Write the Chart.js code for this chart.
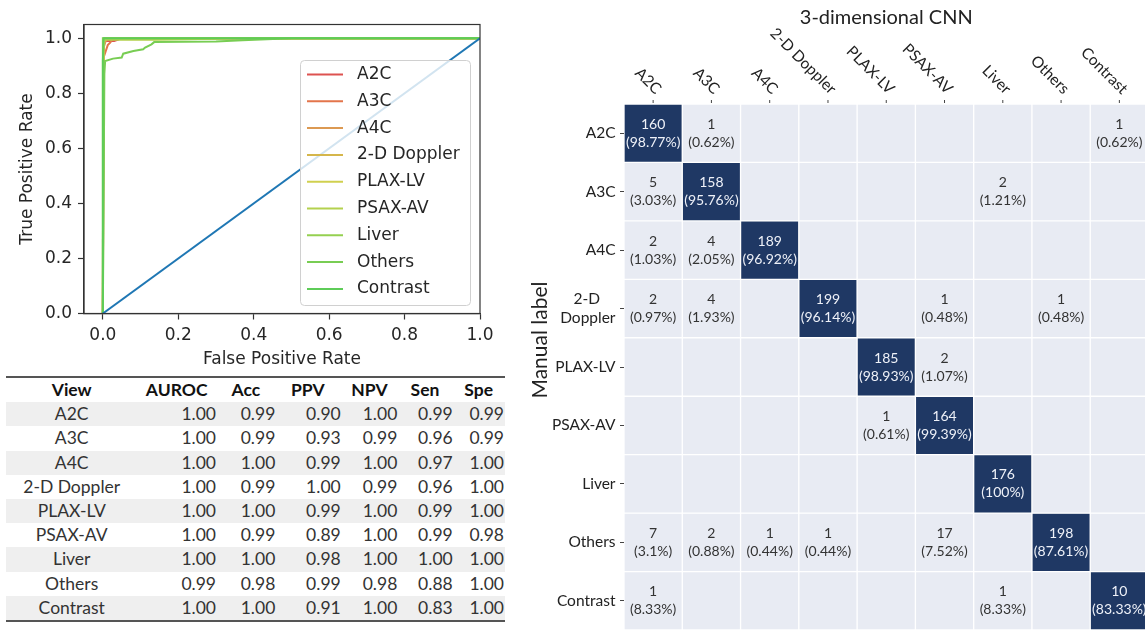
<!DOCTYPE html>
<html>
<head>
<meta charset="utf-8">
<script src="https://cdn.jsdelivr.net/npm/chart.js@4.4.0/dist/chart.umd.min.js"></script>
<style>
  html, body { margin: 0; padding: 0; background: #fff; width: 1145px; height: 635px; overflow: hidden; }
  #rocWrap { position: absolute; left: 0; top: 0; width: 500px; height: 370px; }
  #cmWrap { position: absolute; left: 525px; top: 0; width: 625px; height: 635px; }
  #table { position: absolute; left: 6px; top: 376px; width: 499px; font-family: Lato, sans-serif; font-size: 17.5px; color: #333;
           border-top: 2px solid #555; border-bottom: 2px solid #555; }
  .row { position: relative; height: 24.2px; }
  .row.alt { background: #efefef; }
  .row.head { font-weight: bold; color: #111; }
  .cell { position: absolute; top: 0; line-height: 24.2px; white-space: nowrap; }
  .mid { transform: translateX(-50%); }
</style>
</head>
<body>
<div id="rocWrap"><canvas id="roc"></canvas></div>
<div id="table"></div>
<div id="cmWrap"><canvas id="cm"></canvas></div>
<script>
// ===== ROC data =====
const rocClasses = ["A2C", "A3C", "A4C", "2-D Doppler", "PLAX-LV", "PSAX-AV", "Liver", "Others", "Contrast"];
const rocColors = ["#dd5250", "#e3754b", "#dc9952", "#d5b64b", "#d0d04f", "#b4d14e", "#95d050", "#78cd53", "#5ecc58"];
const rocTicks = [0, 0.2, 0.4, 0.6, 0.8, 1.0];

const fprA2C = [0, 0.001, 0.004, 0.03, 0.05, 1];
const tprA2C = [0, 0.95, 0.99, 0.99, 1.0, 1.0];
const fprA3C = [0, 0.002, 0.013, 0.02, 0.027, 1];
const tprA3C = [0, 0.93, 0.975, 0.985, 1.0, 1.0];
const fprA4C = [0, 0.003, 0.01, 1];
const tprA4C = [0, 0.97, 1.0, 1.0];
const fprDoppler = [0, 0.001, 0.005, 1];
const tprDoppler = [0, 0.96, 1.0, 1.0];
const fprPlax = [0, 0.001, 0.004, 1];
const tprPlax = [0, 0.99, 1.0, 1.0];
const fprPsax = [0, 0.002, 0.006, 0.14, 0.37, 1];
const tprPsax = [0, 0.99, 0.995, 0.995, 1.0, 1.0];
const fprLiver = [0, 0, 1];
const tprLiver = [0, 1.0, 1.0];
const fprOthers = [0, 0.004, 0.006, 0.027, 0.05, 0.054, 0.081, 0.107, 0.112, 0.129, 0.136, 0.3, 0.37, 0.5, 1];
const tprOthers = [0, 0.87, 0.917, 0.926, 0.93, 0.944, 0.954, 0.96, 0.966, 0.978, 0.986, 0.988, 0.993, 1.0, 1.0];
const fprContrast = [0, 0, 0.002, 1];
const tprContrast = [0, 0.917, 1.0, 1.0];

const rocFpr = [fprA2C, fprA3C, fprA4C, fprDoppler, fprPlax, fprPsax, fprLiver, fprOthers, fprContrast];
const rocTpr = [tprA2C, tprA3C, tprA4C, tprDoppler, tprPlax, tprPsax, tprLiver, tprOthers, tprContrast];
const chanceLine = [0, 1];

// ===== Table data =====
const tableHeader = ["View", "AUROC", "Acc", "PPV", "NPV", "Sen", "Spe"];
const views = ["A2C", "A3C", "A4C", "2-D Doppler", "PLAX-LV", "PSAX-AV", "Liver", "Others", "Contrast"];
const auroc = [1.00, 1.00, 1.00, 1.00, 1.00, 1.00, 1.00, 0.99, 1.00];
const acc = [0.99, 0.99, 1.00, 0.99, 1.00, 0.99, 1.00, 0.98, 1.00];
const ppv = [0.90, 0.93, 0.99, 1.00, 0.99, 0.89, 0.98, 0.99, 0.91];
const npv = [1.00, 0.99, 1.00, 0.99, 1.00, 1.00, 1.00, 0.98, 1.00];
const sen = [0.99, 0.96, 0.97, 0.96, 0.99, 0.99, 1.00, 0.88, 0.83];
const spe = [0.99, 0.99, 1.00, 1.00, 1.00, 0.98, 1.00, 1.00, 1.00];

// ===== Confusion matrix data =====
const cmTitle = "3-dimensional CNN";
const cmYTitle = "Manual label";
const cmPredLabels = ["A2C", "A3C", "A4C", "2-D Doppler", "PLAX-LV", "PSAX-AV", "Liver", "Others", "Contrast"];
const cmTrueLabels = ["A2C", "A3C", "A4C", ["2-D\u2002\u2002", "Doppler"], "PLAX-LV", "PSAX-AV", "Liver", "Others", "Contrast"];
const cmCounts = [
  [160, 1, 0, 0, 0, 0, 0, 0, 1],
  [5, 158, 0, 0, 0, 0, 2, 0, 0],
  [2, 4, 189, 0, 0, 0, 0, 0, 0],
  [2, 4, 0, 199, 0, 1, 0, 1, 0],
  [0, 0, 0, 0, 185, 2, 0, 0, 0],
  [0, 0, 0, 0, 1, 164, 0, 0, 0],
  [0, 0, 0, 0, 0, 0, 176, 0, 0],
  [7, 2, 1, 1, 0, 17, 0, 198, 0],
  [1, 0, 0, 0, 0, 0, 1, 0, 10],
];
const cmPercents = [
  [98.77, 0.62, 0, 0, 0, 0, 0, 0, 0.62],
  [3.03, 95.76, 0, 0, 0, 0, 1.21, 0, 0],
  [1.03, 2.05, 96.92, 0, 0, 0, 0, 0, 0],
  [0.97, 1.93, 0, 96.14, 0, 0.48, 0, 0.48, 0],
  [0, 0, 0, 0, 98.93, 1.07, 0, 0, 0],
  [0, 0, 0, 0, 0.61, 99.39, 0, 0, 0],
  [0, 0, 0, 0, 0, 0, 100, 0, 0],
  [3.1, 0.88, 0.44, 0.44, 0, 7.52, 0, 87.61, 0],
  [8.33, 0, 0, 0, 0, 0, 8.33, 0, 83.33],
];

// ===== Table =====
const headCenters = [65.7, 170.7, 239.8, 301.8, 363.5, 419, 472.7];
const numRights = [210, 269.3, 334.7, 391.3, 446.7, 498];
const tableEl = document.getElementById("table");
let html = `<div class="row head">` + tableHeader.map((h, i) =>
  `<span class="cell mid" style="left:${headCenters[i]}px">${h}</span>`).join("") + `</div>`;
views.forEach((v, r) => {
  const nums = [auroc[r], acc[r], ppv[r], npv[r], sen[r], spe[r]];
  html += `<div class="row${r % 2 === 0 ? " alt" : ""}">` +
    `<span class="cell mid" style="left:${headCenters[0]}px">${v}</span>` +
    nums.map((n, i) => `<span class="cell" style="right:${499 - numRights[i]}px">${n.toFixed(2)}</span>`).join("") +
    `</div>`;
});
tableEl.innerHTML = html;

// ===== ROC chart =====
const tickFont = { family: "DejaVu Sans", size: 17 };

const rocLegend = {
  id: "rocLegend",
  afterDatasetsDraw(chart) {
    const ctx = chart.ctx;
    ctx.save();
    ctx.fillStyle = "rgba(255,255,255,0.8)";
    ctx.strokeStyle = "#d0d0d0";
    ctx.lineWidth = 1;
    ctx.beginPath();
    ctx.roundRect(300.5, 60.5, 170, 245, 4);
    ctx.fill();
    ctx.stroke();
    ctx.font = '17px "DejaVu Sans"';
    ctx.textBaseline = "middle";
    rocClasses.forEach((name, i) => {
      const y = 74.5 + i * 26.8;
      ctx.strokeStyle = rocColors[i];
      ctx.lineWidth = 2;
      ctx.beginPath();
      ctx.moveTo(307, y);
      ctx.lineTo(343, y);
      ctx.stroke();
      ctx.fillStyle = "#262626";
      ctx.fillText(name, 357, y);
    });
    ctx.restore();
  },
  afterDraw(chart) {
    const { left, top, right, bottom } = chart.chartArea;
    const ctx = chart.ctx;
    ctx.save();
    ctx.strokeStyle = "#333";
    ctx.lineWidth = 1.2;
    ctx.strokeRect(left, top, right - left, bottom - top);
    ctx.restore();
  },
};

const rocDatasets = rocClasses.map((name, i) => ({
  label: name,
  data: rocFpr[i].map((x, k) => ({ x: x, y: rocTpr[i][k] })),
  borderColor: rocColors[i],
  borderWidth: 2,
  showLine: true,
  pointRadius: 0,
  order: 20 - i,
}));
rocDatasets.push({
  label: "chance",
  data: chanceLine.map((v) => ({ x: v, y: v })),
  borderColor: "#1f77b4",
  borderWidth: 2,
  showLine: true,
  pointRadius: 0,
  order: 0,
});

new Chart(document.getElementById("roc"), {
  type: "scatter",
  data: { datasets: rocDatasets },
  options: {
    responsive: true,
    maintainAspectRatio: false,
    animation: false,
    layout: { padding: { top: 24.5, right: 20, left: 0, bottom: 0 } },
    plugins: { legend: { display: false }, tooltip: { enabled: false } },
    scales: {
      x: {
        type: "linear", min: -0.05, max: 1.0,
        afterBuildTicks: (s) => { s.ticks = rocTicks.map((v) => ({ value: v })); },
        afterFit: (s) => { s.height = 56.5; },
        ticks: { callback: (v) => v.toFixed(1), font: tickFont, color: "#262626", padding: 6 },
        grid: { drawOnChartArea: false, tickLength: 6, tickColor: "#333", tickWidth: 1.2 },
        border: { color: "#333", width: 1.2 },
        title: { display: true, text: "False Positive Rate", font: tickFont, color: "#262626", padding: { top: 0, bottom: 0 } },
      },
      y: {
        type: "linear", min: 0, max: 1.05,
        afterBuildTicks: (s) => { s.ticks = rocTicks.map((v) => ({ value: v })); },
        afterFit: (s) => { s.width = 84; },
        ticks: { callback: (v) => v.toFixed(1), font: tickFont, color: "#262626", padding: 6 },
        grid: { drawOnChartArea: false, tickLength: 6, tickColor: "#333", tickWidth: 1.2 },
        border: { color: "#333", width: 1.2 },
        title: { display: true, text: "True Positive Rate", font: tickFont, color: "#262626", padding: { top: 17, bottom: 0 } },
      },
    },
  },
  plugins: [rocLegend],
});

// ===== Confusion matrix =====
const cmDark = "#1f3864";
const cmLight = "#e8ebf3";

const cmText = {
  id: "cmText",
  afterDatasetsDraw(chart) {
    const ctx = chart.ctx;
    ctx.save();
    ctx.textAlign = "center";
    ctx.textBaseline = "middle";
    ctx.font = "14px Lato";
    chart.data.datasets.forEach((ds, r) => {
      chart.getDatasetMeta(r).data.forEach((bar, c) => {
        const n = cmCounts[r][c];
        if (!n) return;
        const cy = (bar.y + bar.base) / 2;
        ctx.fillStyle = r === c ? "#eef1f8" : "#333";
        ctx.fillText(String(n), bar.x, cy - 9);
        ctx.fillText("(" + cmPercents[r][c] + "%)", bar.x, cy + 9);
      });
    });
    // column labels on top
    const xs = chart.scales.x;
    const top = chart.chartArea.top;
    ctx.strokeStyle = "#444";
    ctx.lineWidth = 1;
    ctx.font = "15.5px Lato";
    ctx.fillStyle = "#222";
    ctx.textAlign = "right";
    ctx.textBaseline = "alphabetic";
    cmPredLabels.forEach((lab, i) => {
      const x = xs.getPixelForValue(i);
      ctx.beginPath();
      ctx.moveTo(x, top - 4);
      ctx.lineTo(x, top - 1);
      ctx.stroke();
      ctx.save();
      ctx.translate(x + 2, top - 9);
      ctx.rotate(Math.PI / 4);
      ctx.fillText(lab, 0, 0);
      ctx.restore();
    });
    // y axis title, sitting a bit above the middle as in the figure
    ctx.save();
    ctx.font = "21px Lato";
    ctx.fillStyle = "#222";
    ctx.textAlign = "center";
    ctx.textBaseline = "middle";
    ctx.translate(15, 340);
    ctx.rotate(-Math.PI / 2);
    ctx.fillText(cmYTitle, 0, 0);
    ctx.restore();
    ctx.restore();
  },
};

new Chart(document.getElementById("cm"), {
  type: "bar",
  data: {
    labels: cmPredLabels,
    datasets: cmTrueLabels.map((name, r) => ({
      label: String(name),
      data: cmPredLabels.map(() => [r - 0.5, r + 0.5]),
      backgroundColor: cmPredLabels.map((_, c) => (r === c ? cmDark : cmLight)),
      borderColor: "#ffffff",
      borderWidth: 1,
      borderSkipped: false,
      grouped: false,
      barPercentage: 1,
      categoryPercentage: 1,
    })),
  },
  options: {
    responsive: true,
    maintainAspectRatio: false,
    animation: false,
    layout: { padding: { top: 0, right: 1.5, left: 0, bottom: 5 } },
    plugins: {
      legend: { display: false },
      tooltip: { enabled: false },
      title: {
        display: true, text: cmTitle, fullSize: false,
        font: { family: "Lato", size: 20, weight: "normal" }, color: "#222",
        padding: { top: 6, bottom: 74 },
      },
    },
    scales: {
      x: { type: "category", display: false },
      y: {
        type: "linear", reverse: true, min: -0.5, max: 8.5,
        afterBuildTicks: (s) => { s.ticks = cmTrueLabels.map((_, i) => ({ value: i })); },
        afterFit: (s) => { s.width = 99; s.paddingTop = 0; s.paddingBottom = 0; },
        ticks: { callback: (v) => cmTrueLabels[v], font: { family: "Lato", size: 15.5 }, color: "#222", padding: 4.5, autoSkip: false },
        grid: { drawOnChartArea: false, tickLength: 4, tickColor: "#444" },
        border: { display: false },
      },
    },
  },
  plugins: [cmText],
});
</script>
</body>
</html>
